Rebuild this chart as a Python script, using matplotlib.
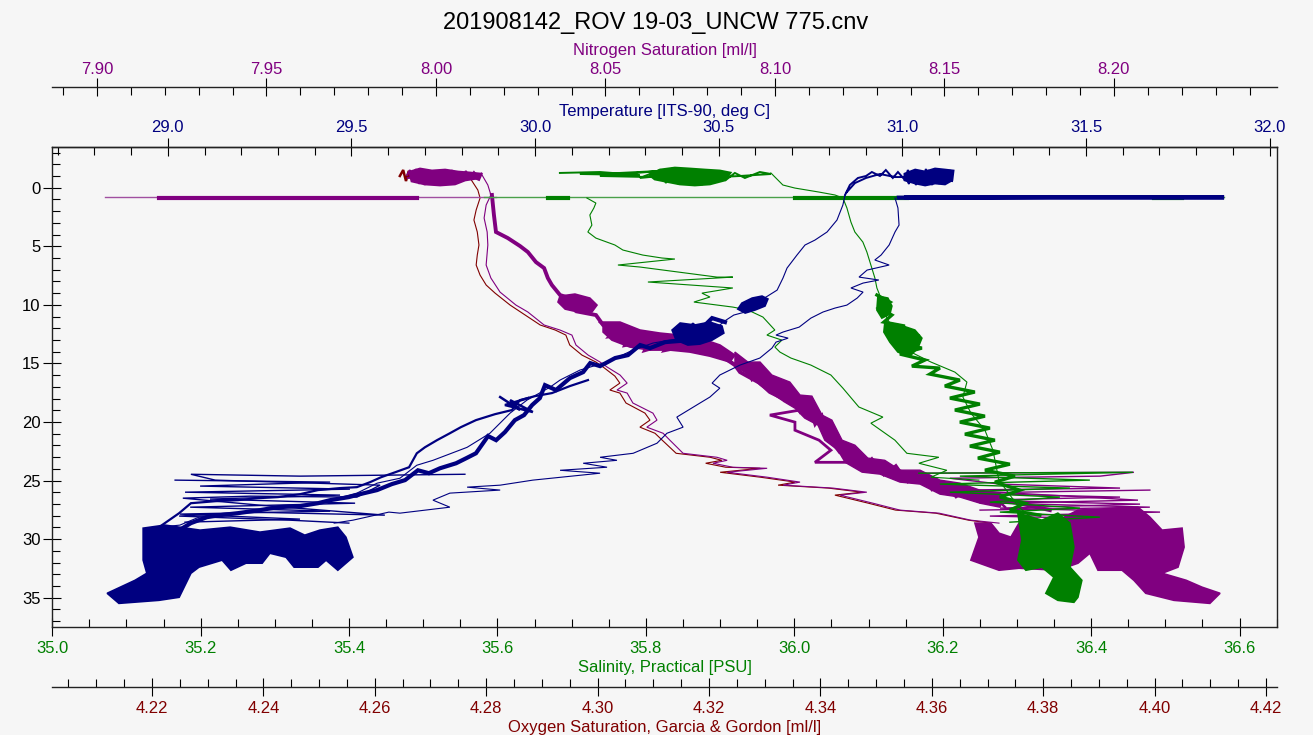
import numpy as np
import matplotlib.pyplot as plt
from matplotlib.ticker import MultipleLocator, FormatStrFormatter

# ---- data: (depth [m], value) pairs ----

# Temperature [ITS-90, deg C]
temp_surface = [(0.62, 30.844), (-0.23, 30.857), (-0.83, 30.879), (-1.00, 30.901), (-1.34, 30.917),
                (-1.00, 30.939), (-1.51, 30.955), (-0.83, 30.974), (-1.34, 30.988), (-0.66, 31.007),
                (-1.51, 31.015), (-0.40, 31.032), (-1.43, 31.043), (-0.49, 31.054), (-1.60, 31.064),
                (-0.32, 31.075), (-1.34, 31.086), (-0.57, 31.097), (-1.51, 31.105), (-0.40, 31.116),
                (-1.26, 31.124), (-0.74, 31.132), (-1.43, 31.138), (-0.66, 31.127), (-1.00, 31.103),
                (-0.83, 31.075), (-1.00, 31.035), (-1.08, 31.007), (-1.00, 31.007), (-0.32, 31.018),
                (-1.43, 31.026), (-0.23, 31.037), (-1.34, 31.048), (-0.40, 31.059), (-1.51, 31.070),
                (-0.23, 31.081), (-1.43, 31.092), (-0.32, 31.100), (-1.34, 31.111), (-0.49, 31.119),
                (-1.51, 31.130), (-0.57, 31.135), (-0.91, 31.050), (-0.91, 30.980), (-1.17, 30.939),
                (-0.83, 30.901), (-0.40, 30.871), (0.37, 30.849)]
temp_surface_core = [(-1.17, 31.007), (-1.51, 31.035), (-1.34, 31.062), (-1.60, 31.089), (-1.51, 31.116),
                     (-1.43, 31.138), (-0.66, 31.135), (-0.32, 31.116), (-0.40, 31.089), (-0.23, 31.062),
                     (-0.40, 31.035), (-0.66, 31.007)]
temp_spike = [(0.85, 30.99), (0.82, 31.876), (0.80, 31.40), (0.84, 31.01)]
temp_down1 = [(0.62, 30.844), (1.48, 30.838), (2.76, 30.822), (3.78, 30.795), (4.47, 30.762),
              (4.89, 30.735), (5.75, 30.713), (6.86, 30.686), (7.71, 30.675), (8.74, 30.659),
              (9.33, 30.629), (9.85, 30.596), (10.02, 30.612), (10.27, 30.580), (10.44, 30.558),
              (10.61, 30.572), (10.87, 30.541), (11.30, 30.520), (11.72, 30.503), (12.15, 30.463),
              (12.75, 30.422), (13.01, 30.367), (13.26, 30.321), (13.86, 30.267), (14.88, 30.196),
              (15.57, 30.122), (16.42, 30.068), (17.02, 30.041), (18.13, 29.978), (19.24, 29.932),
              (20.96, 29.877), (22.16, 29.815), (23.27, 29.722), (23.69, 29.678), (24.80, 29.632),
              (25.22, 29.570), (26.07, 29.515), (26.93, 29.409), (27.27, 29.300), (27.78, 29.191),
              (28.12, 29.085), (28.80, 29.033), (28.98, 28.976)]
temp_band = [(11.47, 30.517), (11.13, 30.482), (12.15, 30.449), (11.72, 30.430), (12.58, 30.395),
             (13.01, 30.422), (13.18, 30.354), (13.69, 30.313), (13.43, 30.286), (14.29, 30.253),
             (14.54, 30.218), (15.23, 30.177), (14.97, 30.150), (15.74, 30.131), (16.25, 30.095),
             (17.27, 30.057), (16.85, 30.027), (17.96, 30.013), (18.55, 29.992), (19.41, 29.970),
             (19.84, 29.945), (20.86, 29.918), (21.55, 29.894), (21.20, 29.872), (22.67, 29.839),
             (23.10, 29.812), (23.52, 29.785), (23.95, 29.741), (24.37, 29.711), (24.12, 29.681),
             (24.96, 29.646), (25.30, 29.610), (25.81, 29.570), (26.16, 29.523), (26.41, 29.493),
             (26.67, 29.442), (26.93, 29.409), (27.18, 29.360), (27.27, 29.300), (27.52, 29.251),
             (27.78, 29.191), (27.95, 29.142), (28.12, 29.107), (28.63, 29.063), (29.23, 29.031)]
temp_band_upper = [(16.42, 30.144), (16.93, 30.095), (17.53, 30.046), (17.79, 30.000), (18.13, 29.959),
                   (18.98, 29.937), (19.33, 29.891), (19.84, 29.839), (20.44, 29.798), (20.96, 29.768),
                   (21.55, 29.733), (22.16, 29.700), (22.67, 29.678), (23.86, 29.657), (24.29, 29.619),
                   (24.71, 29.581), (25.13, 29.551), (25.56, 29.515), (25.64, 29.469), (25.81, 29.409),
                   (26.16, 29.360), (26.41, 29.300), (26.50, 29.246), (26.67, 29.191), (26.76, 29.129),
                   (26.93, 29.063), (27.78, 29.031), (28.98, 28.976)]
temp_down2 = [(0.88, 30.980), (1.73, 30.988), (3.19, 30.991), (3.78, 30.980), (4.89, 30.964),
              (5.75, 30.942), (6.17, 30.925), (6.60, 30.964), (7.03, 30.904), (7.63, 30.882),
              (7.88, 30.936), (8.14, 30.893), (8.56, 30.860), (8.91, 30.893), (9.42, 30.877),
              (10.02, 30.849), (10.27, 30.817), (10.61, 30.784), (11.13, 30.751), (11.90, 30.719),
              (12.32, 30.675), (12.58, 30.656), (12.84, 30.689), (13.18, 30.656), (13.69, 30.645),
              (14.54, 30.612), (15.14, 30.558), (15.99, 30.503), (16.68, 30.482), (17.11, 30.503),
              (17.87, 30.476), (18.38, 30.449), (19.58, 30.386), (20.44, 30.403), (20.96, 30.359),
              (21.81, 30.332), (22.67, 30.267), (23.01, 30.177), (23.27, 30.223), (23.52, 30.131),
              (23.86, 30.196), (24.12, 30.068), (24.37, 30.177), (24.96, 29.994), (25.39, 29.905),
              (25.56, 29.815), (25.81, 29.905), (26.07, 29.768), (26.67, 29.722), (27.27, 29.768),
              (27.78, 29.632), (27.69, 29.602), (28.38, 29.504), (28.63, 29.453)]
temp_deep_lines = [(24.46, 29.809), (24.62, 29.360), (24.46, 29.063), (24.96, 29.129), (25.39, 29.578),
                   (26.41, 29.515), (26.33, 29.224), (26.50, 29.041), (27.10, 29.251), (27.95, 29.591),
                   (27.69, 29.224), (28.03, 29.031), (28.38, 29.333), (28.63, 29.493)]
temp_deep_lines2 = [(24.96, 29.020), (25.13, 29.442), (25.47, 29.088), (25.73, 29.496), (25.99, 29.047),
                    (26.24, 29.469), (26.58, 29.115), (26.93, 29.510), (27.27, 29.061), (27.61, 29.442),
                    (27.86, 29.033), (28.29, 29.360), (28.55, 29.047)]
temp_knot_a = [(9.85, 30.563), (9.42, 30.591), (9.25, 30.618), (9.50, 30.634), (10.10, 30.626),
               (10.44, 30.599), (10.70, 30.572), (10.36, 30.552)]
temp_knot_b = [(12.15, 30.373), (11.55, 30.395), (11.72, 30.435), (11.47, 30.476), (11.81, 30.509),
               (12.41, 30.514), (13.01, 30.482), (13.35, 30.449), (13.43, 30.416), (13.01, 30.384)]
temp_knot_c = [(17.87, 29.905), (18.98, 29.959), (18.13, 29.932), (19.15, 29.994), (18.55, 29.918), (17.96, 29.981)]
temp_bottom = [(29.06, 28.933), (28.80, 28.992), (29.23, 29.088), (28.98, 29.170), (29.40, 29.251),
               (29.06, 29.333), (29.66, 29.373), (29.23, 29.414), (28.98, 29.463), (29.83, 29.485),
               (31.54, 29.504), (32.65, 29.463), (31.79, 29.431), (32.39, 29.409), (32.39, 29.344),
               (31.54, 29.322), (31.20, 29.278), (32.05, 29.257), (32.05, 29.213), (32.65, 29.172),
               (31.79, 29.148), (32.39, 29.085), (32.91, 29.063), (34.96, 29.031), (35.22, 28.976),
               (35.48, 28.867), (34.62, 28.835), (33.51, 28.911), (32.91, 28.943), (31.79, 28.933),
               (30.08, 28.933)]

# Nitrogen Saturation [ml/l]
nitro_surface = [(-1.08, 7.9915), (-1.51, 7.9923), (-0.57, 7.9932), (-1.60, 7.9941), (-0.32, 7.9950),
                 (-1.43, 7.9959), (-0.23, 7.9967), (-1.51, 7.9976), (-0.40, 7.9985), (-1.34, 7.9994),
                 (-0.23, 8.0003), (-1.43, 8.0012), (-0.32, 8.0021), (-1.34, 8.0029), (-0.40, 8.0038),
                 (-1.51, 8.0047), (-0.49, 8.0056), (-1.26, 8.0065), (-0.74, 8.0077), (-1.43, 8.0088),
                 (-0.83, 8.0100), (-1.34, 8.0112), (-0.91, 8.0124), (-1.26, 8.0136), (-0.66, 8.0127),
                 (-1.00, 8.0100), (-0.83, 8.0071), (-1.00, 8.0041), (-0.83, 8.0012), (-1.00, 7.9976),
                 (-0.91, 7.9938), (-0.83, 7.9917)]
nitro_surface_core = [(-1.34, 7.9923), (-1.60, 7.9953), (-1.43, 7.9988), (-1.51, 8.0027), (-1.34, 8.0065),
                      (-1.26, 8.0100), (-1.17, 8.0130), (-0.83, 8.0124), (-0.66, 8.0086), (-0.32, 8.0056),
                      (-0.23, 8.0012), (-0.32, 7.9967), (-0.57, 7.9929)]
nitro_spike = [(0.82, 7.9025), (0.82, 8.0177)]
nitro_spike_core = [(0.84, 7.9183), (0.84, 7.9944)]
nitro_thin = [(-1.08, 8.0136), (-0.23, 8.0153), (0.62, 8.0162), (1.48, 8.0148), (2.59, 8.0142),
              (3.78, 8.0151), (4.89, 8.0153), (6.60, 8.0148), (7.71, 8.0162), (8.91, 8.0189),
              (10.02, 8.0236), (10.27, 8.0251), (10.61, 8.0271), (11.72, 8.0319), (12.15, 8.0366),
              (12.58, 8.0401), (13.43, 8.0413), (14.29, 8.0449), (14.88, 8.0484), (15.31, 8.0505),
              (15.99, 8.0543), (16.68, 8.0564), (17.27, 8.0534), (17.53, 8.0564), (18.38, 8.0581),
              (19.24, 8.0640), (19.84, 8.0652), (20.44, 8.0622), (20.96, 8.0670), (21.55, 8.0690),
              (22.67, 8.0729), (23.01, 8.0829), (23.27, 8.0859), (23.52, 8.0817), (23.86, 8.0876),
              (23.95, 8.0977), (24.29, 8.0859), (24.71, 8.0977), (25.13, 8.1074), (25.39, 8.1024),
              (25.64, 8.1171), (25.99, 8.1271), (26.24, 8.1192), (26.93, 8.1289), (27.52, 8.1369),
              (27.78, 8.1484), (28.38, 8.1578), (28.63, 8.1661)]
nitro_band = [(0.62, 8.0165), (2.33, 8.0171), (3.78, 8.0177), (4.30, 8.0212), (4.98, 8.0248),
              (5.49, 8.0271), (6.35, 8.0295), (6.86, 8.0319), (7.71, 8.0330), (8.31, 8.0342),
              (9.16, 8.0366), (9.59, 8.0410), (10.02, 8.0389), (10.19, 8.0454), (10.61, 8.0425),
              (10.87, 8.0472), (11.72, 8.0493), (12.15, 8.0528), (12.67, 8.0513), (12.41, 8.0572),
              (13.43, 8.0558), (13.01, 8.0631), (13.86, 8.0617), (13.26, 8.0690), (13.86, 8.0676),
              (13.43, 8.0749), (14.03, 8.0779), (14.29, 8.0838), (15.14, 8.0882), (15.74, 8.0897),
              (16.68, 8.0956), (17.44, 8.0985), (17.87, 8.1015), (18.47, 8.1059), (18.72, 8.1094),
              (19.24, 8.1130), (20.27, 8.1147), (21.55, 8.1165), (22.59, 8.1192), (23.27, 8.1248),
              (23.86, 8.1319), (24.37, 8.1389), (24.96, 8.1442), (25.56, 8.1484), (25.99, 8.1546),
              (26.41, 8.1602), (26.67, 8.1664), (26.93, 8.1720), (27.52, 8.1811)]
nitro_band2 = [(11.47, 8.0484), (12.32, 8.0519), (12.84, 8.0581), (12.49, 8.0631), (13.18, 8.0681),
               (12.84, 8.0734), (13.86, 8.0779), (14.03, 8.0832), (14.97, 8.0876), (15.57, 8.0912),
               (16.16, 8.0935), (16.85, 8.0971), (17.27, 8.0994), (17.70, 8.1030), (18.13, 8.1053),
               (18.98, 8.1074), (19.41, 8.0985), (20.01, 8.1059), (20.70, 8.1059), (21.55, 8.1130),
               (22.41, 8.1165), (23.44, 8.1118), (23.44, 8.1221), (24.12, 8.1289), (24.80, 8.1369),
               (25.13, 8.1428), (25.81, 8.1487), (26.16, 8.1546), (26.67, 8.1605), (27.10, 8.1664)]
nitro_knot_small = [(9.25, 8.0366), (9.08, 8.0410), (9.42, 8.0454), (10.02, 8.0475), (10.61, 8.0460),
                    (10.61, 8.0419), (10.36, 8.0381), (9.76, 8.0360)]
nitro_knot_arch = [(11.47, 8.0493), (11.47, 8.0543), (12.15, 8.0602), (12.41, 8.0661), (12.58, 8.0720),
                   (12.84, 8.0779), (13.43, 8.0838), (14.29, 8.0882), (14.88, 8.0867), (14.38, 8.0808),
                   (14.03, 8.0749), (13.86, 8.0690), (13.86, 8.0631), (13.60, 8.0572), (13.01, 8.0519),
                   (12.32, 8.0493)]
nitro_slope_core = [(14.03, 8.0882), (14.88, 8.0920), (14.88, 8.0956), (15.99, 8.0991), (16.59, 8.1044),
                    (17.70, 8.1074), (17.79, 8.1109), (19.41, 8.1139), (19.84, 8.1168), (21.55, 8.1198),
                    (21.98, 8.1236), (23.08, 8.1274), (23.27, 8.1324), (24.11, 8.1369), (24.11, 8.1428),
                    (24.96, 8.1487), (25.22, 8.1546), (25.82, 8.1605), (26.07, 8.1664),
                    (27.27, 8.1664), (26.93, 8.1605), (26.41, 8.1546), (26.16, 8.1487), (25.30, 8.1428),
                    (25.13, 8.1369), (24.45, 8.1310), (24.28, 8.1257), (23.44, 8.1207), (22.40, 8.1186),
                    (21.55, 8.1147), (20.27, 8.1127), (19.67, 8.1088), (18.82, 8.1059), (18.30, 8.1029),
                    (17.45, 8.0985), (16.85, 8.0956), (15.91, 8.0920), (15.23, 8.0882)]
nitro_knot_slope = [(15.14, 8.0912), (16.42, 8.0932), (15.74, 8.0956), (17.27, 8.0979), (16.59, 8.1003),
                    (18.13, 8.1027), (17.44, 8.1050), (19.15, 8.1074), (18.30, 8.1097), (20.27, 8.1118),
                    (19.41, 8.1139), (21.55, 8.1156), (20.86, 8.1180), (22.84, 8.1198), (22.23, 8.1227),
                    (23.95, 8.1257), (23.10, 8.1286), (24.54, 8.1321), (23.69, 8.1357), (25.13, 8.1392),
                    (24.29, 8.1428), (25.81, 8.1463), (25.13, 8.1498), (26.41, 8.1534), (25.64, 8.1569),
                    (26.84, 8.1605), (26.16, 8.1640), (27.27, 8.1679)]
nitro_deep_lines = [(24.37, 8.1425), (24.29, 8.2059), (24.62, 8.1959), (24.80, 8.1516), (25.30, 8.1664),
                    (25.64, 8.2018), (25.81, 8.1546), (26.67, 8.2071), (26.93, 8.1664), (27.27, 8.2106),
                    (27.52, 8.1605)]
nitro_deep_lines2 = [(25.81, 8.2106), (26.07, 8.1546), (26.41, 8.2018), (26.67, 8.1605), (27.01, 8.2077),
                     (27.35, 8.1664), (27.69, 8.2136), (28.03, 8.1634), (28.29, 8.2047)]
nitro_bottom = [(28.63, 8.1590), (28.63, 8.1637), (29.49, 8.1661), (29.83, 8.1696), (28.63, 8.1720),
                (28.38, 8.1835), (27.52, 8.1894), (27.27, 8.2071), (28.12, 8.2106), (29.23, 8.2142),
                (29.06, 8.2201), (30.68, 8.2207), (32.39, 8.2189), (32.91, 8.2142), (33.51, 8.2213),
                (34.10, 8.2260), (34.62, 8.2313), (35.48, 8.2283), (35.22, 8.2177), (34.62, 8.2094),
                (33.51, 8.2059), (32.65, 8.2024), (32.65, 8.1953), (31.20, 8.1929), (32.05, 8.1894),
                (32.65, 8.1835), (32.48, 8.1720), (32.65, 8.1661), (31.79, 8.1578), (29.83, 8.1602)]

# Oxygen Saturation, Garcia & Gordon [ml/l]
oxy_surface = [(-1.00, 4.2645), (-1.51, 4.2651), (-0.57, 4.2656), (-1.43, 4.2661), (-0.66, 4.2667),
               (-1.34, 4.2672), (-0.83, 4.2678), (-0.91, 4.2660)]
oxy_thin = [(-0.83, 4.2771), (0.20, 4.2785), (0.88, 4.2789), (1.90, 4.2782), (2.76, 4.2778),
            (3.78, 4.2784), (4.89, 4.2787), (5.75, 4.2784), (6.60, 4.2782), (7.46, 4.2789),
            (8.31, 4.2800), (9.00, 4.2816), (10.02, 4.2843), (10.87, 4.2870), (11.72, 4.2897),
            (12.15, 4.2924), (12.58, 4.2943), (13.43, 4.2950), (14.29, 4.2972), (14.88, 4.2997),
            (15.31, 4.3010), (16.08, 4.3031), (16.68, 4.3040), (17.27, 4.3022), (17.53, 4.3040),
            (18.38, 4.3051), (19.24, 4.3085), (19.84, 4.3094), (20.44, 4.3076), (20.96, 4.3103),
            (21.55, 4.3116), (22.67, 4.3141), (23.01, 4.3202), (23.27, 4.3223), (23.52, 4.3194),
            (23.86, 4.3230), (23.95, 4.3292), (24.29, 4.3220), (24.71, 4.3292), (25.13, 4.3355),
            (25.39, 4.3324), (25.64, 4.3414), (25.99, 4.3475), (26.24, 4.3426), (26.93, 4.3486),
            (27.52, 4.3535), (27.78, 4.3607), (28.38, 4.3666), (28.63, 4.3705)]

# Salinity, Practical [PSU]
sal_surface = [(-1.26, 35.6841), (-1.34, 35.7380), (-1.08, 35.7919), (-1.17, 35.7111), (-1.26, 35.7650),
               (-1.43, 35.8189), (-1.00, 35.7380), (-0.91, 35.8054), (-1.34, 35.8728), (-0.83, 35.7919),
               (-1.51, 35.8189), (-0.40, 35.8270), (-1.68, 35.8350), (-0.32, 35.8431), (-1.60, 35.8512),
               (-0.49, 35.8593), (-1.51, 35.8674), (-0.23, 35.8755), (-1.43, 35.8836), (-0.40, 35.8916),
               (-1.34, 35.8997), (-0.66, 35.9078), (-1.26, 35.9199), (-0.83, 35.9334), (-1.34, 35.9536),
               (-1.17, 35.9685), (-1.00, 35.9267), (-0.83, 35.8728), (-1.00, 35.8458)]
sal_surface_core = [(-1.08, 35.8054), (-1.51, 35.8189), (-1.68, 35.8391), (-1.60, 35.8593), (-1.51, 35.8795),
                    (-1.43, 35.8997), (-1.26, 35.9132), (-0.66, 35.9065), (-0.32, 35.8862), (-0.23, 35.8660),
                    (-0.32, 35.8458), (-0.57, 35.8256), (-0.74, 35.8121)]
sal_spike = [(0.82, 35.5817), (0.82, 36.5789)]
sal_spike_core_a = [(0.84, 35.6680), (0.84, 35.6949)]
sal_spike_core_b = [(0.84, 36.0008), (0.84, 36.1517)]
sal_spike_core_c = [(0.84, 36.4846), (0.84, 36.5223)]
sal_loop = [(0.88, 35.7205), (1.31, 35.7326), (1.73, 35.7299), (2.33, 35.7245), (3.19, 35.7272),
            (3.78, 35.7218), (4.30, 35.7326), (4.89, 35.7582), (5.32, 35.7690), (5.75, 35.7959),
            (6.00, 35.8215), (6.09, 35.8391), (6.60, 35.7623), (6.77, 35.7919), (7.63, 35.8957),
            (7.63, 35.9172), (8.05, 35.8027), (8.56, 35.9172), (9.00, 35.8755), (9.33, 35.8863),
            (9.76, 35.8647), (10.19, 35.9172), (10.44, 35.9375), (11.04, 35.9577), (12.15, 35.9738),
            (12.58, 35.9631), (13.01, 35.9833), (13.60, 35.9738), (14.03, 35.9806), (14.54, 35.9954),
            (15.14, 36.0223), (15.99, 36.0493), (17.11, 36.0655), (18.72, 36.0870), (19.58, 36.1194),
            (20.10, 36.1032), (21.55, 36.1356), (22.67, 36.1517), (23.01, 36.1948), (23.52, 36.1679),
            (24.12, 36.2056), (24.71, 36.1841), (24.96, 36.2488)]
sal_main = [(-1.26, 35.9684), (-0.23, 35.9846), (0.03, 36.0008), (0.37, 36.0331), (0.62, 36.0547),
            (0.88, 36.0655), (1.73, 36.0709), (2.93, 36.0763), (3.78, 36.0816), (4.64, 36.0924),
            (5.49, 36.0978), (6.60, 36.1032), (7.71, 36.1086), (8.56, 36.1113), (9.42, 36.1167),
            (11.13, 36.1248), (11.72, 36.1302), (14.03, 36.1571), (14.88, 36.1841), (15.74, 36.2164),
            (16.59, 36.2326), (17.87, 36.2272), (19.24, 36.2380), (20.70, 36.2569), (22.41, 36.2677),
            (24.96, 36.2757), (27.27, 36.3027), (28.63, 36.3283)]
sal_column = [(9.16, 36.1113), (9.76, 36.1288), (10.27, 36.1140), (10.87, 36.1315), (11.47, 36.1207),
              (11.81, 36.1490), (12.32, 36.1261), (12.66, 36.1692), (13.18, 36.1356), (13.69, 36.1719),
              (14.20, 36.1423), (14.71, 36.1760), (15.23, 36.1585), (15.40, 36.1962), (15.91, 36.1827),
              (16.42, 36.2231), (16.93, 36.2029), (17.44, 36.2433), (17.96, 36.2097), (18.47, 36.2501),
              (18.98, 36.2164), (19.50, 36.2569), (20.01, 36.2231), (20.52, 36.2636), (21.04, 36.2299),
              (21.55, 36.2703), (22.06, 36.2366), (22.57, 36.2770), (23.08, 36.2474), (23.60, 36.2905),
              (24.11, 36.2569), (24.62, 36.2973), (25.13, 36.2703), (25.82, 36.3040), (26.41, 36.2770),
              (26.93, 36.3108), (27.52, 36.2905), (27.95, 36.3309)]
sal_knot_a = [(9.25, 36.1127), (9.42, 36.1261), (10.10, 36.1315), (10.79, 36.1288), (11.13, 36.1180),
              (10.44, 36.1113)]
sal_knot_b = [(11.47, 36.1221), (11.72, 36.1423), (12.15, 36.1625), (12.84, 36.1719), (13.69, 36.1665),
              (14.37, 36.1558), (14.03, 36.1396), (13.18, 36.1288), (12.32, 36.1207)]
sal_deep_lines = [(24.37, 36.1679), (24.29, 36.4563), (24.62, 36.2231), (24.96, 36.3983), (25.30, 36.1962),
                  (25.64, 36.3714), (25.99, 36.2097), (26.41, 36.3579), (26.84, 36.2636), (27.35, 36.3849),
                  (27.69, 36.2770), (28.12, 36.4118), (28.55, 36.2905)]
sal_bottom = [(27.78, 36.3013), (28.38, 36.3337), (27.78, 36.3552), (28.63, 36.3714), (30.68, 36.3768),
              (32.39, 36.3714), (33.51, 36.3875), (34.96, 36.3822), (35.39, 36.3768), (35.22, 36.3552),
              (34.62, 36.3390), (33.25, 36.3498), (32.39, 36.3337), (32.65, 36.3121), (31.79, 36.3013),
              (30.08, 36.3067)]

title = "201908142_ROV 19-03_UNCW 775.cnv"

BG = "#f6f6f6"
NAVY = "#000080"
PURPLE = "#800080"
GREEN = "#008000"
MAROON = "#800000"

plt.rcParams['font.family'] = ['Liberation Sans', 'DejaVu Sans']

fig = plt.figure(figsize=(13.13, 7.35), dpi=100, facecolor=BG)
ax = fig.add_axes([0.0398, 0.1469, 0.9325, 0.6535])   # salinity, bottom
ax_t = ax.twiny()                                      # temperature, top
ax_n = ax.twiny()                                      # nitrogen, top offset
ax_o = ax.twiny()                                      # oxygen, bottom offset

# draw order: oxygen, nitrogen, salinity, temperature
ax_o.set_zorder(1)
ax_n.set_zorder(2)
ax.set_zorder(3)
ax_t.set_zorder(4)
for a in (ax, ax_t, ax_n, ax_o):
    a.patch.set_visible(False)


def line(a, pts, color, lw):
    arr = np.array(pts)
    a.plot(arr[:, 1], arr[:, 0], color=color, lw=lw, solid_joinstyle="miter")


def blob(a, pts, color, lw=1.2):
    arr = np.array(pts)
    a.fill(arr[:, 1], arr[:, 0], color=color, lw=lw)


# oxygen
line(ax_o, oxy_thin, MAROON, 0.8)
line(ax_o, oxy_surface, MAROON, 1.8)

# nitrogen
line(ax_n, nitro_spike, "#a050a0", 1.0)
line(ax_n, nitro_spike_core, PURPLE, 3.0)
line(ax_n, nitro_surface, PURPLE, 1.4)
blob(ax_n, nitro_surface_core, PURPLE, 2.0)
line(ax_n, nitro_thin, PURPLE, 0.8)
line(ax_n, nitro_band, PURPLE, 2.8)
line(ax_n, nitro_band2, PURPLE, 2.0)
blob(ax_n, nitro_knot_small, PURPLE)
blob(ax_n, nitro_knot_arch, PURPLE)
blob(ax_n, nitro_slope_core, PURPLE, 1.0)
line(ax_n, nitro_knot_slope, PURPLE, 1.8)
line(ax_n, nitro_deep_lines, PURPLE, 1.0)
line(ax_n, nitro_deep_lines2, PURPLE, 1.0)
blob(ax_n, nitro_bottom, PURPLE)

# salinity
line(ax, sal_spike, "#4aa04a", 1.0)
for seg in (sal_spike_core_a, sal_spike_core_b, sal_spike_core_c):
    line(ax, seg, GREEN, 3.0)
line(ax, sal_surface, GREEN, 1.4)
blob(ax, sal_surface_core, GREEN, 2.0)
line(ax, sal_loop, GREEN, 0.8)
line(ax, sal_main, GREEN, 0.8)
line(ax, sal_column, GREEN, 2.4)
blob(ax, sal_knot_a, GREEN)
blob(ax, sal_knot_b, GREEN)
line(ax, sal_deep_lines, GREEN, 1.0)
blob(ax, sal_bottom, GREEN)

# temperature
line(ax_t, temp_spike, NAVY, 3.0)
line(ax_t, temp_surface, NAVY, 1.4)
blob(ax_t, temp_surface_core, NAVY, 2.0)
line(ax_t, temp_down1, NAVY, 0.8)
line(ax_t, temp_band, NAVY, 3.0)
line(ax_t, temp_band_upper, NAVY, 1.6)
line(ax_t, temp_down2, NAVY, 0.8)
line(ax_t, temp_deep_lines, NAVY, 1.0)
line(ax_t, temp_deep_lines2, NAVY, 1.0)
blob(ax_t, temp_knot_a, NAVY)
blob(ax_t, temp_knot_b, NAVY)
line(ax_t, temp_knot_c, NAVY, 1.8)
blob(ax_t, temp_bottom, NAVY)

# ---- axes ----
ax.set_ylim(37.5, -3.5)
ax.set_xlim(35.0, 36.650)
ax_t.set_xlim(28.6855, 32.019)
ax_n.set_xlim(7.8868, 8.2480)
ax_o.set_xlim(4.2021, 4.4219)

ax.yaxis.set_major_locator(MultipleLocator(5))
ax.yaxis.set_minor_locator(MultipleLocator(1))
ax.tick_params(axis="y", which="major", direction="inout", length=13, width=0.8,
               pad=2, labelsize=12, left=True, right=False)
ax.tick_params(axis="y", which="minor", direction="in", length=6, width=0.8, right=False)

specs = [
    (ax, 0.2, 0.05, "%.1f", GREEN, "Salinity, Practical [PSU]", 3.4, 3),
    (ax_t, 0.5, 0.1, "%.1f", NAVY, "Temperature [ITS-90, deg C]", 2.0, 3),
    (ax_n, 0.05, 0.01, "%.2f", PURPLE, "Nitrogen Saturation [ml/l]", 0.6, 5),
    (ax_o, 0.02, 0.005, "%.2f", MAROON, "Oxygen Saturation, Garcia & Gordon [ml/l]", 3.6, 3),
]
for a, major, minor, fmt, col, label, pad, lpad in specs:
    a.xaxis.set_major_locator(MultipleLocator(major))
    a.xaxis.set_minor_locator(MultipleLocator(minor))
    a.xaxis.set_major_formatter(FormatStrFormatter(fmt))
    a.tick_params(axis="x", which="major", direction="inout", length=13, width=0.8,
                  pad=pad, labelsize=12, labelcolor=col)
    a.tick_params(axis="x", which="minor", direction="in", length=6, width=0.8)
    a.set_xlabel(label, color=col, fontsize=12, labelpad=lpad)

ax.xaxis.set_ticks_position("bottom")

ax_n.xaxis.set_ticks_position("top")
ax_n.xaxis.set_label_position("top")
ax_n.spines["top"].set_position(("axes", 1.1237))

ax_o.xaxis.set_ticks_position("bottom")
ax_o.xaxis.set_label_position("bottom")
ax_o.spines["bottom"].set_position(("axes", -0.1243))

for name in ("left", "right", "bottom"):
    ax_n.spines[name].set_visible(False)
for name in ("left", "right", "top"):
    ax_o.spines[name].set_visible(False)
for name in ("left", "right", "bottom"):
    ax_t.spines[name].set_visible(False)

for a in (ax, ax_t, ax_n, ax_o):
    for sp in a.spines.values():
        sp.set_linewidth(1.0)
        sp.set_color("#222222")

fig.text(0.4996, 1 - 23.5 / 735, title, ha="center", va="center", fontsize=17)

fig.savefig("out.png", dpi=100, facecolor=BG)
